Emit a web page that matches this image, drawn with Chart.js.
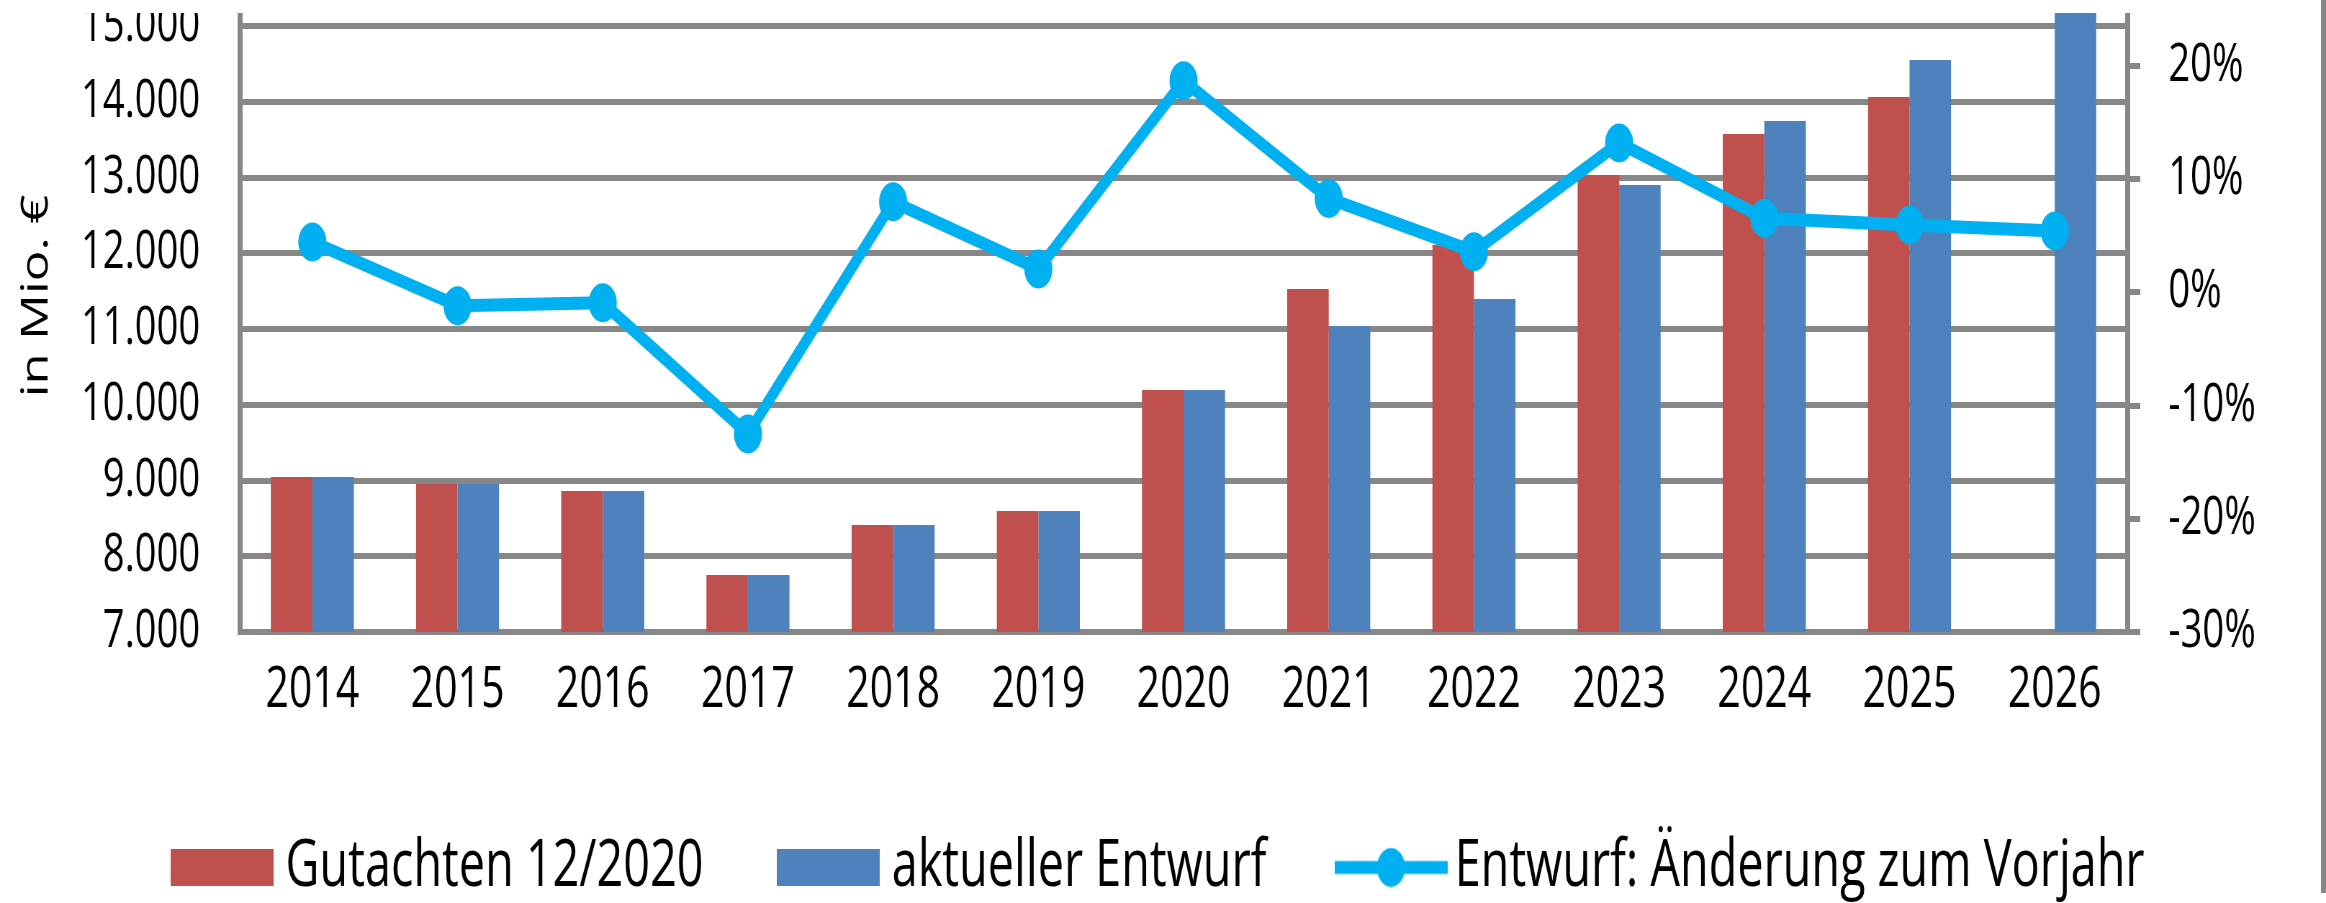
<!DOCTYPE html>
<html><head><meta charset="utf-8">
<script src="https://cdn.jsdelivr.net/npm/chart.js@4.4.1/dist/chart.umd.min.js"></script>
<style>
html,body{margin:0;padding:0;background:#fff;overflow:hidden;width:2326px;height:903px;}
#wrap{position:absolute;left:0;top:13px;width:3231px;height:890px;transform:scaleX(0.7199);transform-origin:0 0;}
#frame{position:absolute;left:2321px;top:0;width:5px;height:893px;background:#878787;}
</style></head><body>
<div id="wrap"><canvas id="c"></canvas></div>
<div id="frame"></div>
<script>
const years = ['2014','2015','2016','2017','2018','2019','2020','2021','2022','2023','2024','2025','2026'];
const gutachten = [9046, 8954, 8861, 7752, 8413, 8597, 10195, 11528, 12109, 13033, 13574, 14063, null];
const entwurf   = [9046, 8954, 8861, 7752, 8413, 8597, 10195, 11040, 11396, 12901, 13746, 14551, 15340];
const aenderung = [4.45, -1.17, -0.91, -12.5, 8.0, 2.07, 18.7, 8.3, 3.6, 13.2, 6.55, 5.95, 5.42];
const leftTickValues = [7000, 8000, 9000, 10000, 11000, 12000, 13000, 14000, 15000];
const leftTickLabels = ['7.000','8.000','9.000','10.000','11.000','12.000','13.000','14.000','15.000'];
const rightTickValues = [-30, -20, -10, 0, 10, 20];
const rightTickLabels = ['-30%','-20%','-10%','0%','10%','20%'];
const seriesNames = ['Gutachten 12/2020', 'aktueller Entwurf', 'Entwurf: Änderung zum Vorjahr'];
const yTitle = 'in Mio. €';

const RED = '#C0504D', BLUE = '#4F81BD', CYAN = '#00B0F0', GRID = '#878787';
Chart.defaults.font.family = "'Open Sans', sans-serif";

function rectImg(color, w, h) {
  const c = document.createElement('canvas'); c.width = w; c.height = h;
  const g = c.getContext('2d'); g.fillStyle = color; g.fillRect(0, 0, w, h); return c;
}
function lineImg(color, w, h, lw, r) {
  const c = document.createElement('canvas'); c.width = w; c.height = h;
  const g = c.getContext('2d'); g.fillStyle = color;
  g.fillRect(0, h / 2 - lw / 2, w, lw);
  g.beginPath(); g.arc(w / 2, h / 2, r, 0, Math.PI * 2); g.fill(); return c;
}
const legendImgs = [rectImg(RED, 143, 37), rectImg(BLUE, 143, 37), lineImg(CYAN, 157, 40, 13, 19.5)];
const legendColors = [RED, BLUE, CYAN];

new Chart(document.getElementById('c'), {
  data: {
    labels: years,
    datasets: [
      { type: 'bar', label: seriesNames[0], data: gutachten, backgroundColor: RED, borderWidth: 0,
        categoryPercentage: 0.572, barPercentage: 1.0, yAxisID: 'y', order: 2 },
      { type: 'bar', label: seriesNames[1], data: entwurf, backgroundColor: BLUE, borderWidth: 0,
        categoryPercentage: 0.572, barPercentage: 1.0, yAxisID: 'y', order: 2 },
      { type: 'line', label: seriesNames[2], data: aenderung, borderColor: CYAN, backgroundColor: CYAN,
        borderWidth: 13, tension: 0, borderJoinStyle: 'round', pointRadius: 18, pointBorderWidth: 3,
        pointBackgroundColor: CYAN, pointBorderColor: CYAN, yAxisID: 'y1', order: 1 }
    ]
  },
  options: {
    responsive: true, maintainAspectRatio: false, animation: false, devicePixelRatio: 1,
    events: [],
    layout: { autoPadding: false, padding: { top: 0, right: 0, bottom: -7, left: 0 } },
    plugins: {
      tooltip: { enabled: false },
      legend: {
        position: 'bottom',
        labels: {
          usePointStyle: true, pointStyleWidth: 112, boxHeight: 37, padding: 117,
          color: '#000', font: { size: 65 },
          generateLabels: () => seriesNames.map((t, i) => ({
            text: t, pointStyle: legendImgs[i], fillStyle: legendColors[i], strokeStyle: legendColors[i],
            lineWidth: 0, hidden: false, datasetIndex: i, fontColor: '#000'
          }))
        }
      }
    },
    scales: {
      x: {
        type: 'category', offset: true,
        grid: { display: true, drawOnChartArea: false, drawTicks: false, color: 'rgba(0,0,0,0)' },
        border: { display: true, color: GRID, width: 6 },
        ticks: { color: '#000', font: { size: 57 }, padding: 25, maxRotation: 0, autoSkip: false },
        afterFit: s => { s.height = 86; s.paddingLeft = 0; s.paddingRight = 0; }
      },
      y: {
        type: 'linear', position: 'left', min: 7000, max: 15172,
        afterBuildTicks: s => { s.ticks = leftTickValues.map(v => ({ value: v })); },
        ticks: { callback: v => leftTickLabels[leftTickValues.indexOf(v)], color: '#000', font: { size: 53 }, padding: 55 },
        grid: { color: GRID, lineWidth: 6, drawTicks: false },
        border: { display: true, color: GRID, width: 7 },
        title: { display: true, text: '    ' + yTitle, color: '#000', font: { size: 51 }, padding: { top: 21, bottom: 0 } },
        afterFit: s => { s.width = 333; s.paddingTop = 0; s.paddingBottom = 0; }
      },
      y1: {
        type: 'linear', position: 'right', min: -30, max: 24.68,
        afterBuildTicks: s => { s.ticks = rightTickValues.map(v => ({ value: v })); },
        ticks: { callback: v => rightTickLabels[rightTickValues.indexOf(v)], color: '#000', font: { size: 53 }, padding: 39 },
        grid: { drawOnChartArea: false, drawTicks: true, tickLength: 18, tickColor: GRID, tickWidth: 6, color: GRID, lineWidth: 6 },
        border: { display: true, color: GRID, width: 7 },
        afterFit: s => { s.width = 276; s.paddingTop = 0; s.paddingBottom = 0; }
      }
    }
  }
});
</script>
</body></html>
